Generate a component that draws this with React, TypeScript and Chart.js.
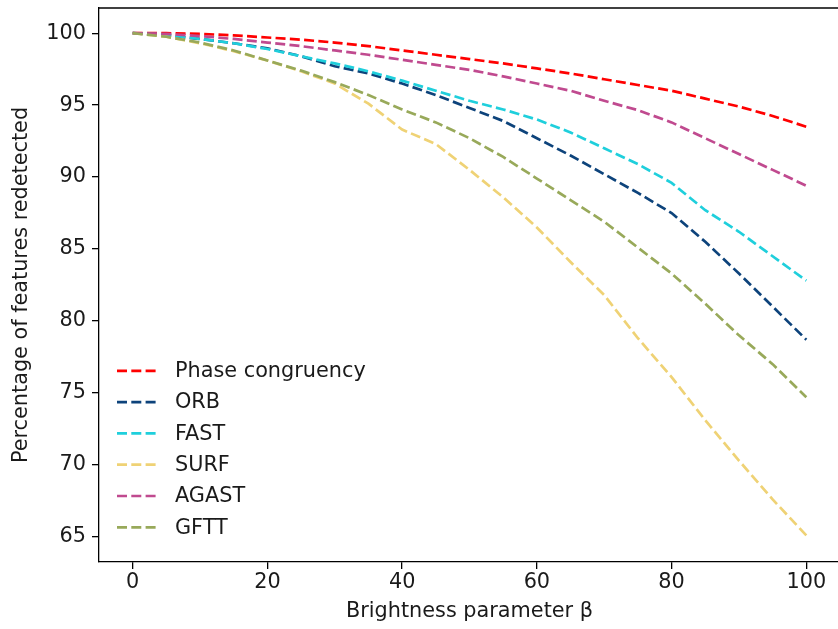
import React, { useEffect, useRef } from "react";
import { Chart, registerables } from "chart.js";

Chart.register(...registerables);

// ---- data ----
const beta = [0, 5, 10, 15, 20, 25, 30, 35, 40, 45, 50, 55, 60, 65, 70, 75, 80, 85, 90, 95, 100];
const phaseCongruency = [100, 100, 99.95, 99.85, 99.7, 99.55, 99.35, 99.1, 98.8, 98.5, 98.2, 97.9, 97.55, 97.2, 96.8, 96.4, 96.0, 95.45, 94.9, 94.25, 93.5];
const orb = [100, 99.85, 99.6, 99.3, 98.95, 98.4, 97.7, 97.2, 96.5, 95.7, 94.8, 93.9, 92.7, 91.5, 90.2, 88.9, 87.5, 85.5, 83.3, 81.0, 78.7];
const fast = [100, 99.9, 99.6, 99.3, 98.9, 98.4, 97.9, 97.35, 96.7, 96.0, 95.3, 94.7, 94.0, 93.1, 92.0, 90.9, 89.6, 87.7, 86.2, 84.5, 82.8];
const surf = [100, 99.75, 99.3, 98.75, 98.1, 97.35, 96.5, 95.1, 93.3, 92.3, 90.5, 88.6, 86.5, 84.1, 81.8, 78.8, 76.1, 73.1, 70.3, 67.6, 65.1];
const agast = [100, 99.95, 99.8, 99.6, 99.35, 99.1, 98.8, 98.5, 98.15, 97.8, 97.45, 97.0, 96.5, 96.0, 95.3, 94.65, 93.8, 92.7, 91.6, 90.5, 89.4];
const gftt = [100, 99.75, 99.35, 98.8, 98.1, 97.4, 96.6, 95.7, 94.7, 93.8, 92.7, 91.4, 89.9, 88.4, 86.9, 85.1, 83.3, 81.2, 79.0, 77.0, 74.7];

const seriesNames = ["Phase congruency", "ORB", "FAST", "SURF", "AGAST", "GFTT"];
const seriesValues = [phaseCongruency, orb, fast, surf, agast, gftt];
const seriesColors = ["#ff0000", "#0d437b", "#1fcfdc", "#efd275", "#c04a8f", "#98a95a"];

const xTicks = [0, 20, 40, 60, 80, 100];
const yTicks = [65, 70, 75, 80, 85, 90, 95, 100];
const xLabel = "Brightness parameter β";
const yLabel = "Percentage of features redetected";

const FONT = "'DejaVu Sans', sans-serif";
const FS = 20.8;
const TEXT = "#1a1a1a";
const LW = 2.7;
const DASH = [10, 4.3];

const framePlugin = {
  id: "frameAndLegend",
  afterDatasetsDraw(chart: any) {
    const { ctx, chartArea } = chart;
    const { left, right, top, bottom } = chartArea;
    ctx.save();
    ctx.strokeStyle = "#000";
    ctx.lineWidth = 1.3;
    ctx.beginPath();
    ctx.moveTo(left, top);
    ctx.lineTo(right, top);
    ctx.stroke();

    // legend (lower left, inside plot)
    const rowGap = 31.3;
    const n = chart.data.datasets.length;
    const lastY = bottom - 34.7;
    const firstY = lastY - rowGap * (n - 1);
    chart.data.datasets.forEach((ds: any, i: number) => {
      const y = firstY + i * rowGap;
      ctx.strokeStyle = ds.borderColor;
      ctx.lineWidth = LW;
      ctx.setLineDash(DASH);
      ctx.lineCap = "butt";
      ctx.beginPath();
      ctx.moveTo(left + 18, y);
      ctx.lineTo(left + 59, y);
      ctx.stroke();
      ctx.setLineDash([]);
      ctx.fillStyle = TEXT;
      ctx.font = `${FS}px ${FONT}`;
      ctx.textBaseline = "middle";
      ctx.textAlign = "left";
      ctx.fillText(ds.label, left + 76, y + 1);
    });
    ctx.restore();
  },
};

export default function App() {
  const canvasRef = useRef<HTMLCanvasElement | null>(null);

  useEffect(() => {
    if (!canvasRef.current) return;
    const datasets = seriesNames.map((name, i) => ({
      label: name,
      data: beta.map((b, j) => ({ x: b, y: seriesValues[i][j] })),
      borderColor: seriesColors[i],
      backgroundColor: seriesColors[i],
      borderWidth: LW,
      borderDash: DASH,
      pointRadius: 0,
      tension: 0,
      fill: false,
      order: -i,
    }));

    const chart = new Chart(canvasRef.current, {
      type: "line",
      data: { datasets },
      plugins: [framePlugin],
      options: {
        responsive: false,
        animation: false,
        layout: { padding: { top: 8, right: 6, left: 0, bottom: 0 } },
        plugins: {
          legend: { display: false },
          tooltip: { enabled: false },
        },
        scales: {
          x: {
            type: "linear",
            min: -5,
            max: 105,
            afterBuildTicks: (scale: any) => {
              scale.ticks = xTicks.map((v) => ({ value: v }));
            },
            afterFit: (scale: any) => {
              scale.height = 67;
              scale.paddingLeft = 0;
              scale.paddingRight = 0;
            },
            grid: {
              drawOnChartArea: false,
              drawTicks: true,
              tickLength: 7,
              color: "#000",
              lineWidth: 1.3,
            },
            border: { display: true, color: "#000", width: 1.3 },
            ticks: {
              color: TEXT,
              font: { family: FONT, size: FS },
              padding: 1,
              maxRotation: 0,
              autoSkip: false,
            },
            title: {
              display: true,
              text: xLabel,
              color: TEXT,
              font: { family: FONT, size: FS },
              padding: { top: 0, bottom: 5 },
            },
          },
          y: {
            type: "linear",
            min: 63.25,
            max: 101.75,
            afterBuildTicks: (scale: any) => {
              scale.ticks = yTicks.map((v) => ({ value: v }));
            },
            afterFit: (scale: any) => {
              scale.width = 99;
              scale.paddingTop = 0;
              scale.paddingBottom = 0;
            },
            grid: {
              drawOnChartArea: false,
              drawTicks: true,
              tickLength: 7,
              color: "#000",
              lineWidth: 1.3,
            },
            border: { display: true, color: "#000", width: 1.3 },
            ticks: {
              color: TEXT,
              font: { family: FONT, size: FS },
              padding: 6,
              autoSkip: false,
            },
            title: {
              display: true,
              text: yLabel,
              color: TEXT,
              font: { family: FONT, size: FS },
              padding: { top: 9, bottom: 0 },
            },
          },
        },
      },
    } as any);

    return () => chart.destroy();
  }, []);

  return (
    <div
      style={{
        position: "absolute",
        left: 0,
        top: 0,
        width: 838,
        height: 629,
        overflow: "hidden",
        background: "#fff",
      }}
    >
      <canvas ref={canvasRef} width={846} height={629} style={{ display: "block" }} />
    </div>
  );
}
